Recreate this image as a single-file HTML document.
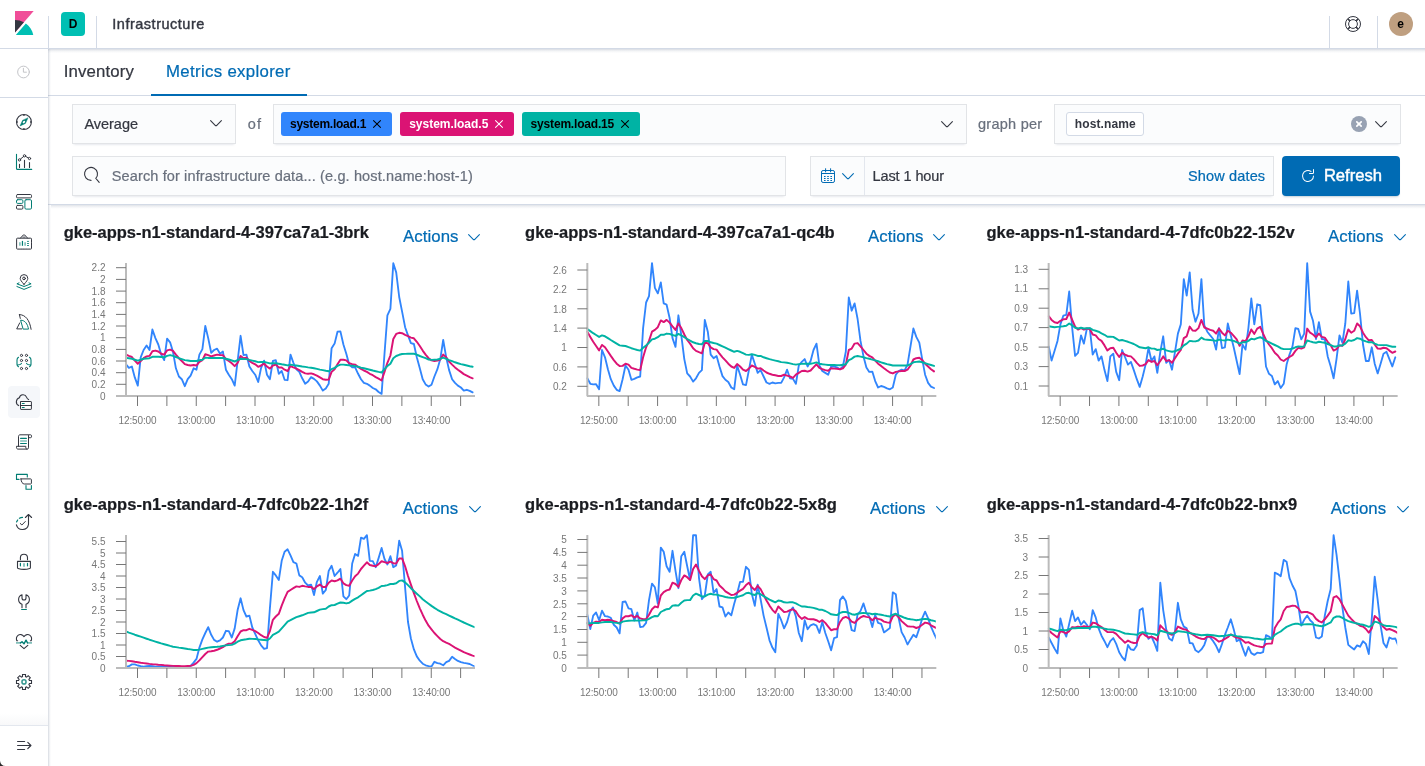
<!DOCTYPE html><html lang="en"><head><meta charset="utf-8"><title>Metrics explorer - Infrastructure - Kibana</title>
<style>
*{box-sizing:border-box;margin:0;padding:0}
html,body{width:1425px;height:766px;overflow:hidden;background:#fff}
body{font-family:"Liberation Sans",sans-serif;color:#343741;position:relative}
.t{position:absolute;white-space:nowrap;-webkit-text-stroke:.22px currentColor}
.abs{position:absolute}
#hdr{position:absolute;left:0;top:0;width:1425px;height:49px;background:#fff;border-bottom:1px solid #D3DAE6;z-index:5}
#hsh{position:absolute;left:48px;top:49px;width:1377px;height:4px;background:linear-gradient(to bottom,rgba(152,162,179,.38),rgba(152,162,179,.12) 50%,rgba(152,162,179,0));z-index:3}
#ssh{position:absolute;left:48px;top:49px;width:3px;height:717px;background:linear-gradient(to right,rgba(152,162,179,.4),rgba(152,162,179,.12) 55%,rgba(152,162,179,0));z-index:4}
.vd{position:absolute;top:16px;width:1px;height:32px;background:#D3DAE6}
#side{position:absolute;left:0;top:49px;width:48px;height:717px;background:#fff;z-index:4}
.hl{position:absolute;height:1px;background:#D3DAE6}
#tabs{position:absolute;left:48px;top:49px;width:1377px;height:47px;border-bottom:1px solid #D3DAE6;background:#fff}
#tbar{position:absolute;left:48px;top:96px;width:1377px;height:109px;background:#fff;border-bottom:1px solid #D3DAE6;}
#tsh{position:absolute;left:51px;top:205px;width:1374px;height:4px;background:linear-gradient(to bottom,rgba(152,162,179,.3),rgba(152,162,179,.1) 50%,rgba(152,162,179,0))}
.fld{position:absolute;height:40px;background:#FBFCFD;border:1px solid rgba(50,55,70,.12);box-shadow:0 1px 1px -1px rgba(152,162,179,.2),0 3px 2px -2px rgba(152,162,179,.2)}
.bdg{position:absolute;top:112px;height:24px;border-radius:3px}
svg{position:absolute;overflow:visible}
#root{position:absolute;left:0;top:0;width:1425px;height:766px;will-change:transform}
</style></head><body><div id="root">
<div id="hdr">
<svg style="left:12px;top:11px" width="24" height="24" viewBox="0 0 32 32"><polygon fill="#F04E98" points="4,0 4,28.8 28.94,0"/><path fill="#343741" d="M4 12v16.789l11.906-13.738A24.721 24.721 0 0 0 4 12z"/><path fill="#00BFB3" d="M18.479 16.664L6.268 30.754l-1.073 1.237h23.191c-1.252-6.292-4.883-11.719-9.908-15.327"/></svg>
<div class="vd" style="left:48px"></div>
<div class="abs" style="left:61px;top:12px;width:24px;height:24px;border-radius:4px;background:#00BFB3"></div>
<div class="t " style="left:68.85px;top:17.94px;font-size:12px;line-height:12px;letter-spacing:-0.237px;color:#000;font-weight:700;-webkit-text-stroke:0;">D</div>
<div class="vd" style="left:96px"></div>
<div class="t " style="left:112.29px;top:17.03px;font-size:14.5px;line-height:14.5px;letter-spacing:0.508px;color:#343741;-webkit-text-stroke:.4px #343741;">Infrastructure</div>
<div class="vd" style="left:1329px"></div>
<svg style="left:1345px;top:16px" width="16" height="16" viewBox="0 0 16 16" fill="none" stroke="#343741" stroke-width="1"><circle cx="8" cy="8" r="7.5"/><circle cx="8" cy="8" r="4.4"/><path d="M2.7 2.7l2.2 2.2M13.3 2.7l-2.2 2.2M2.7 13.3l2.2-2.2M13.3 13.3l-2.2-2.2" stroke-width="1.6"/></svg>
<div class="vd" style="left:1377px"></div>
<div class="abs" style="left:1389px;top:12px;width:24px;height:24px;border-radius:12px;background:#BF9F80"></div>
<div class="t " style="left:1397.16px;top:18.04px;font-size:12px;line-height:12px;letter-spacing:0.925px;color:#000;font-weight:700;-webkit-text-stroke:0;">e</div>
</div>
<div id="hsh"></div><div id="ssh"></div>
<div id="side">
<svg style="left:16px;top:15.400000000000006px" width="16" height="16" viewBox="0 0 16 16" fill="none" stroke="#343741" stroke-width="1" stroke-linecap="round" stroke-linejoin="round"><g stroke="#C4C5C9"><circle cx="7.5" cy="8" r="5.85"/><path d="M7.4 3.9V8.2h3.4" stroke-linecap="butt" stroke-linejoin="miter"/></g></svg>
<div class="hl" style="left:0;top:48px;width:48px"></div>
<svg style="left:16px;top:64.85px" width="16" height="16" viewBox="0 0 16 16" fill="none" stroke="#343741" stroke-width="1" stroke-linecap="round" stroke-linejoin="round"><circle cx="7.95" cy="8" r="7.45" stroke-width="1.1"/><path d="M7.95 .8v1.1M7.95 14.1v1.100M.75 8h1.100M14.050 8h1.100" stroke-width="1.300" stroke-linecap="butt"/><path d="M11.900 4.100L9.400 9.450 4.050 11.900 6.500 6.550z" fill="#017D73" stroke="#017D73" stroke-width=".5"/><ellipse cx="7.950" cy="8" rx="1.500" ry=".9" transform="rotate(-45 7.950 8)" fill="#fff" stroke="none"/></svg>
<svg style="left:16px;top:105px" width="16" height="16" viewBox="0 0 16 16" fill="none" stroke="#343741" stroke-width="1" stroke-linecap="round" stroke-linejoin="round"><path d="M.5.2V14.4a1 1 0 0 0 1 1H15.7" stroke="#017D73" stroke-width="1.100"/><path d="M3.500 10.200V13.400M8.500 6.300V13.400M13.500 8.500V13.400" stroke-width="1.100"/><path d="M4.400 5.100L7.600 2.500M9.600 2.400L12.500 4"/><circle cx="3.500" cy="5.900" r="1.150"/><circle cx="8.500" cy="1.800" r="1.150"/><circle cx="13.500" cy="4.500" r="1.150"/></svg>
<svg style="left:16px;top:145px" width="16" height="16" viewBox="0 0 16 16" fill="none" stroke="#343741" stroke-width="1" stroke-linecap="round" stroke-linejoin="round"><rect x=".5" y=".5" width="15" height="3.400" rx="1.100"/><rect x=".5" y="5.700" width="6.400" height="3.700" rx="1.100" stroke="#017D73"/><rect x=".5" y="11.400" width="6.400" height="3.700" rx="1.100"/><rect x="8.900" y="5.700" width="6.600" height="9.400" rx="1.200" stroke="#017D73"/></svg>
<svg style="left:16px;top:185px" width="16" height="16" viewBox="0 0 16 16" fill="none" stroke="#343741" stroke-width="1" stroke-linecap="round" stroke-linejoin="round"><path d="M4.300 4.200L7.300 1a1 1 0 0 1 1.400 0l3 3.200" /><path d="M6.900 3.100h2.200" stroke-width=".8"/><rect x=".6" y="4.200" width="14.900" height="10.900" rx=".8" stroke-dasharray="2.200 .55" stroke-dashoffset="1.100"/><path d="M3.900 8.300v3.500M9.100 8.300v3.500" stroke="#80BEB9" stroke-width="1.600" stroke-linecap="butt"/><path d="M6.450 6.900v4.900" stroke="#017D73" stroke-width="1.200" stroke-linecap="butt"/><path d="M11.200 7.400h1.600M11.200 9.500h1.600M11.200 11.500h1.600" stroke="#017D73" stroke-width="1" stroke-linecap="butt"/></svg>
<svg style="left:16px;top:225px" width="16" height="16" viewBox="0 0 16 16" fill="none" stroke="#343741" stroke-width="1" stroke-linecap="round" stroke-linejoin="round"><path d="M8 10.400C5.400 7.300 4.200 6 4.200 4.300A3.800 3.800 0 0 1 8 .6a3.800 3.800 0 0 1 3.800 3.700C11.800 6 10.600 7.300 8 10.400z"/><circle cx="8" cy="4.400" r="1.350"/><path d="M3 8.900L.9 9.800 8 12.500l7.100-2.700L13 8.900M.9 12.500L8 15.400l7.100-2.900" stroke="#017D73"/></svg>
<svg style="left:16px;top:265px" width="16" height="16" viewBox="0 0 16 16" fill="none" stroke="#343741" stroke-width="1" stroke-linecap="round" stroke-linejoin="round"><path d="M3.400.6C9.500.6 13.600 6 15.100 15.300M3.400.6l.9 3.800M3.700 8.900L.7 14.900h5"/><path d="M5 6.200c4 0 6.600 3.800 7.500 8.900H7.500z" stroke="#017D73"/></svg>
<svg style="left:16px;top:305px" width="16" height="16" viewBox="0 0 16 16" fill="none" stroke="#343741" stroke-width="1" stroke-linecap="round" stroke-linejoin="round"><path d="M2.500 3.300C1.300 4 1 5 1 6v4.500c0 1 .5 1.600 1.500 2.200M1.300 11c1.800 0 3.500-.4 4.200-1.500M13.500 3.300C14.700 4 15 5 15 6v4.500c0 1-.5 1.600-1.500 2.200M14.700 11c-1.800 0-3.500-.4-4.200-1.500" stroke="#017D73" stroke-width="1.100"/><circle cx="5.5" cy="1.4" r="1.100"/><circle cx="5.5" cy="6.5" r="1.100"/><circle cx="5.5" cy="14.5" r="1.100"/><circle cx="10.5" cy="1.4" r="1.100"/><circle cx="10.5" cy="6.5" r="1.100"/><circle cx="10.5" cy="14.5" r="1.100"/></svg>
<div class="abs" style="left:8px;top:337px;width:32px;height:32px;border-radius:4px;background:#F5F7FA"></div>
<svg style="left:16px;top:345px" width="16" height="16" viewBox="0 0 16 16" fill="none" stroke="#343741" stroke-width="1" stroke-linecap="round" stroke-linejoin="round"><path d="M12.6 5.6C11.4 5.100 10.900 4.100 10.500 3.100A3.700 3.700 0 0 0 3.400 3.800 4.200 4.200 0 0 0 2.700 11.600" stroke-width="1.100"/><rect x="4.500" y="7.500" width="10.900" height="7.900" rx=".5" fill="#fff"/><path d="M4.500 11.500h10.900"/><path d="M6.300 9.500h1.900M6.300 13.500h1.900" stroke="#017D73" stroke-width="1.100"/></svg>
<svg style="left:16px;top:385px" width="16" height="16" viewBox="0 0 16 16" fill="none" stroke="#343741" stroke-width="1" stroke-linecap="round" stroke-linejoin="round"><path d="M2.500 12.300V2.300c0-.8.700-1.500 1.500-1.500h10.600c.5 0 .9.400.9.900v1.100c0 .5-.4.900-.9.900h-2.100M12.500 1.500v12.300c0 .7-.5 1.300-1.200 1.300H2c-.8 0-1.500-.6-1.500-1.400v-1.400h9.300v1.500c0 .7.500 1.300 1.200 1.300"/><path d="M4.600 4.400h5.800M4.600 9.500h5.800" stroke="#017D73" stroke-width="1.100"/><path d="M4.600 7h5.800" stroke="#80BEB9" stroke-width="1.500"/></svg>
<svg style="left:16px;top:425px" width="16" height="16" viewBox="0 0 16 16" fill="none" stroke="#343741" stroke-width="1" stroke-linecap="round" stroke-linejoin="round"><path d="M3 5.400H.5V.4h10.800V3" stroke="#017D73" stroke-width="1.100"/><path d="M5 4.900h9.600c.5 0 .8.300.8.800v3.500c0 .5-.3.800-.8.800H8.500C6.500 10 5 8 5 4.900z"/><path d="M10 11.500v3.700h5.400v-3.700" stroke="#017D73" stroke-width="1.100"/></svg>
<svg style="left:16px;top:465px" width="16" height="16" viewBox="0 0 16 16" fill="none" stroke="#343741" stroke-width="1" stroke-linecap="round" stroke-linejoin="round"><path d="M12.500.9v9.400M9.400 3.500L12.500.5l3.100 3M12.500 10.300A6.200 6.200 0 0 1 .4 10.900" stroke-width="1.100"/><path d="M.6 7.900l1.100-1.900M3.400 4.300c1-.6 2-.9 3.100-.9" stroke="#017D73" stroke-width="1.200"/><path d="M4.300 9.500l1.600 1.500 3.400-3.500"/></svg>
<svg style="left:16px;top:505px" width="16" height="16" viewBox="0 0 16 16" fill="none" stroke="#343741" stroke-width="1" stroke-linecap="round" stroke-linejoin="round"><path d="M1.500 7.400h12.900v6.300c0 .4-.2.700-.6.800-3.800 1.200-7.900 1.200-11.700 0-.4-.1-.6-.4-.6-.8z" stroke-width="1.100"/><path d="M4.400 5.700V3.800a3.550 3.550 0 0 1 7.100 0v1.900" stroke-width="1.100"/><path d="M4.400 9.400v2.400M11.500 9.400v2.400" stroke="#017D73" stroke-width="1.200"/><path d="M8 9.300v3.400" stroke="#80BEB9" stroke-width="1.800" stroke-linecap="butt"/></svg>
<svg style="left:16px;top:545px" width="16" height="16" viewBox="0 0 16 16" fill="none" stroke="#343741" stroke-width="1" stroke-linecap="round" stroke-linejoin="round"><path d="M6 .7C3.700 1.500 2.600 3.500 2.600 5.500c0 2.200 1.400 4 3.400 4.800v3.400M10 13.700v-3.400c2-.8 3.400-2.600 3.400-4.800 0-2-1.100-4-3.400-4.800M6 .7V4a2 2 0 0 0 4 0V.7" stroke-width="1.100"/><path d="M5.600 15.500h4.800" stroke="#017D73" stroke-width="1.100"/></svg>
<svg style="left:16px;top:585px" width="16" height="16" viewBox="0 0 16 16" fill="none" stroke="#343741" stroke-width="1" stroke-linecap="round" stroke-linejoin="round"><path d="M1.600 6.700h-.8C.2 5 .3 2.800 2 1.400 3.800 0 6.300.3 8 2.600 9.700.3 12.200 0 14 1.400c1.700 1.400 1.800 3.600 1.200 5.300h-.8M4.200 11.400L8 14.700l3.800-3.300" stroke-width="1.100"/><path d="M0 8.900h4.500M11.500 8.900H16" stroke="#80BEB9" stroke-width="1.700" stroke-linecap="butt"/><path d="M4.500 8.900L6 7.700l2 2.100 2-3.600 1.500 2.700" stroke="#017D73" stroke-width="1.400"/></svg>
<svg style="left:16px;top:625px" width="16" height="16" viewBox="0 0 16 16" fill="none" stroke="#343741" stroke-width="1" stroke-linecap="round" stroke-linejoin="round"><path d="M6.500.500h3v2.100l1.100.5L12.200 1.700l2.100 2.100-1.400 1.600.5 1.100h2.100v3h-2.100l-.5 1.100 1.400 1.600-2.100 2.100-1.600-1.400-1.100.5v2.100h-3v-2.100l-1.100-.5-1.600 1.400-2.100-2.100 1.400-1.600-.5-1.100H.5v-3h2.100l.5-1.100-1.400-1.600 2.100-2.100 1.600 1.400 1.100-.5z" stroke-linejoin="miter" stroke-width="1.100"/><circle cx="8" cy="7.900" r="2.050" stroke="#017D73" stroke-width="1.500" opacity=".8"/></svg>
<div class="abs" style="left:0;top:664px;width:48px;height:12px;background:linear-gradient(to bottom,rgba(152,162,179,0),rgba(152,162,179,.07))"></div><div class="hl" style="left:0;top:676px;width:48px;background:#E3E7EE"></div>
<svg style="left:16px;top:689px" width="16" height="16" viewBox="0 0 16 16" fill="none" stroke="#343741" stroke-width="1" stroke-linecap="round" stroke-linejoin="round"><path d="M1.600 3.500h7M1.600 7.500h13M1.600 11.500h7M11.800 4.400l3.100 3.100-3.100 3.100" stroke-width="1.200"/></svg>
</div>
<div id="tabs"></div>
<div class="t " style="left:63.70px;top:63.68px;font-size:16.8px;line-height:16.8px;letter-spacing:0.147px;color:#343741;">Inventory</div>
<div class="t " style="left:166.03px;top:63.68px;font-size:16.8px;line-height:16.8px;letter-spacing:0.333px;color:#006BB4;">Metrics explorer</div>
<div class="abs" style="left:151px;top:94px;width:156px;height:2px;background:#006BB4"></div>
<div id="tbar"></div><div id="tsh"></div>
<div class="fld" style="left:72px;top:104px;width:164px"></div>
<div class="t " style="left:84.40px;top:116.93px;font-size:14.5px;line-height:14.5px;letter-spacing:-0.021px;color:#343741;">Average</div>
<svg style="left:210px;top:120px" width="12" height="7" viewBox="0 0 12 7" fill="none" stroke="#343741" stroke-width="1.1" stroke-linecap="round" stroke-linejoin="round"><path d="M.6.7l4.6 4.6a1.1 1.1 0 0 0 1.6 0L11.4.7"/></svg>
<div class="t " style="left:247.84px;top:116.93px;font-size:14.5px;line-height:14.5px;letter-spacing:1.037px;color:#69707D;">of</div>
<div class="fld" style="left:273px;top:104px;width:694px"></div>
<div class="bdg" style="left:281px;width:111px;background:#3185FC"></div>
<div class="t " style="left:290.02px;top:118.14px;font-size:12px;line-height:12px;letter-spacing:-0.257px;color:#000;font-weight:700;-webkit-text-stroke:0;">system.load.1</div>
<svg style="left:373.4px;top:120px" width="8" height="8" viewBox="0 0 8 8" fill="#000"><g transform="rotate(45 4 4)"><rect x="-1.400" y="3.500" width="10.800" height="1" rx=".5"/><rect x="3.500" y="-1.400" width="1" height="10.800" rx=".5"/></g></svg>
<div class="bdg" style="left:400px;width:114px;background:#DB1374"></div>
<div class="t " style="left:409.23px;top:118.14px;font-size:12px;line-height:12px;letter-spacing:-0.024px;color:#fff;font-weight:700;-webkit-text-stroke:0;">system.load.5</div>
<svg style="left:495px;top:120px" width="8" height="8" viewBox="0 0 8 8" fill="#fff"><g transform="rotate(45 4 4)"><rect x="-1.400" y="3.500" width="10.800" height="1" rx=".5"/><rect x="3.500" y="-1.400" width="1" height="10.800" rx=".5"/></g></svg>
<div class="bdg" style="left:522px;width:118px;background:#00B3A4"></div>
<div class="t " style="left:530.62px;top:118.14px;font-size:12px;line-height:12px;letter-spacing:-0.183px;color:#000;font-weight:700;-webkit-text-stroke:0;">system.load.15</div>
<svg style="left:621.2px;top:120px" width="8" height="8" viewBox="0 0 8 8" fill="#000"><g transform="rotate(45 4 4)"><rect x="-1.400" y="3.500" width="10.800" height="1" rx=".5"/><rect x="3.500" y="-1.400" width="1" height="10.800" rx=".5"/></g></svg>
<svg style="left:941px;top:121px" width="12" height="7" viewBox="0 0 12 7" fill="none" stroke="#343741" stroke-width="1.1" stroke-linecap="round" stroke-linejoin="round"><path d="M.6.7l4.6 4.6a1.1 1.1 0 0 0 1.6 0L11.4.7"/></svg>
<div class="t " style="left:978.04px;top:116.93px;font-size:14.5px;line-height:14.5px;letter-spacing:0.261px;color:#69707D;">graph per</div>
<div class="fld" style="left:1054px;top:104px;width:347px"></div>
<div class="abs" style="left:1066px;top:112px;width:78px;height:24px;border-radius:3px;background:#fff;border:1px solid #D3DAE6"></div>
<div class="t " style="left:1074.79px;top:118.14px;font-size:12px;line-height:12px;letter-spacing:0.123px;color:#343741;font-weight:700;-webkit-text-stroke:0;">host.name</div>
<svg style="left:1351px;top:116px" width="16" height="16" viewBox="0 0 16 16"><circle cx="8" cy="8" r="8" fill="#98A2B3"/><g transform="rotate(45 8 8)" fill="#fff"><rect x="4.100" y="7.150" width="7.800" height="1.700" rx=".8"/><rect x="7.150" y="4.100" width="1.700" height="7.800" rx=".8"/></g></svg>
<svg style="left:1375px;top:121px" width="12" height="7" viewBox="0 0 12 7" fill="none" stroke="#343741" stroke-width="1.1" stroke-linecap="round" stroke-linejoin="round"><path d="M.6.7l4.6 4.6a1.1 1.1 0 0 0 1.6 0L11.4.7"/></svg>
<div class="fld" style="left:72px;top:156px;width:714px"></div>
<svg style="left:83px;top:166.1px" width="17" height="18" viewBox="0 0 17 18" fill="none" stroke="#343741" stroke-width="1.1" stroke-linecap="round"><path d="M8 14.4A6.5 6.5 0 1 1 12.8 12.3L16.2 16.4"/></svg>
<div class="t " style="left:111.78px;top:169.13px;font-size:14.5px;line-height:14.5px;letter-spacing:0.130px;color:#69707D;">Search for infrastructure data... (e.g. host.name:host-1)</div>
<div class="fld" style="left:810px;top:156px;width:464px"></div>
<div class="abs" style="left:864px;top:157px;width:1px;height:38px;background:#E3E7EE"></div>
<svg style="left:821px;top:168px" width="14" height="16" viewBox="0 0 14 16" fill="none" stroke="#006BB4" stroke-width="1"><rect x=".5" y="2.5" width="13" height="12" rx="1.6"/><path d="M.5 5.5h13M4.600.7v3.200M9.600.7v3.200" stroke-linecap="round"/><path d="M3 8.500h1.600M6.200 8.500h1.600M9.400 8.500H11M3 10.500h1.600M6.200 10.500h1.600M9.400 10.500H11M3 12.500h1.600M6.200 12.500h1.600M9.400 12.500H11" stroke-width="1.100"/></svg>
<svg style="left:842px;top:173px" width="12" height="7" viewBox="0 0 12 7" fill="none" stroke="#006BB4" stroke-width="1.1" stroke-linecap="round" stroke-linejoin="round"><path d="M.6.7l4.6 4.6a1.1 1.1 0 0 0 1.6 0L11.4.7"/></svg>
<div class="t " style="left:872.41px;top:168.63px;font-size:14.5px;line-height:14.5px;letter-spacing:-0.079px;color:#343741;">Last 1 hour</div>
<div class="t " style="left:1187.97px;top:168.63px;font-size:14.5px;line-height:14.5px;letter-spacing:0.153px;color:#006BB4;">Show dates</div>
<div class="abs" style="left:1282px;top:156px;width:118px;height:40px;border-radius:4px;background:#006BB4;box-shadow:0 2px 2px -1px rgba(54,97,126,.3)"></div>
<svg style="left:1300px;top:167.6px" width="16" height="16" viewBox="0 0 16 16" fill="#fff"><path d="M11.228 2.942a.5.5 0 1 1-.538.842A5 5 0 1 0 13 8a.5.5 0 1 1 1 0 6 6 0 1 1-2.772-5.058zM14 1.500v3A1.500 1.500 0 0 1 12.500 6h-3a.5.5 0 0 1 0-1h3a.5.5 0 0 0 .5-.5v-3a.5.5 0 1 1 1 0z"/></svg>
<div class="t " style="left:1323.89px;top:167.55px;font-size:16.6px;line-height:16.6px;letter-spacing:-0.002px;color:#fff;-webkit-text-stroke:.45px #fff;">Refresh</div>
<div class="t " style="left:63.78px;top:224.03px;font-size:16.5px;line-height:16.5px;letter-spacing:-0.033px;color:#1A1C21;font-weight:700;">gke-apps-n1-standard-4-397ca7a1-3brk</div>
<div class="t " style="left:403.00px;top:228.68px;font-size:16.8px;line-height:16.8px;letter-spacing:0.073px;color:#006BB4;">Actions</div>
<svg style="left:468.4px;top:234px" width="12" height="7" viewBox="0 0 12 7" fill="none" stroke="#006BB4" stroke-width="1.1" stroke-linecap="round" stroke-linejoin="round"><path d="M.6.7l4.6 4.6a1.1 1.1 0 0 0 1.6 0L11.4.7"/></svg>
<div class="t " style="left:525.08px;top:224.03px;font-size:16.5px;line-height:16.5px;letter-spacing:-0.011px;color:#1A1C21;font-weight:700;">gke-apps-n1-standard-4-397ca7a1-qc4b</div>
<div class="t " style="left:868.00px;top:228.68px;font-size:16.8px;line-height:16.8px;letter-spacing:0.073px;color:#006BB4;">Actions</div>
<svg style="left:933.2px;top:234px" width="12" height="7" viewBox="0 0 12 7" fill="none" stroke="#006BB4" stroke-width="1.1" stroke-linecap="round" stroke-linejoin="round"><path d="M.6.7l4.6 4.6a1.1 1.1 0 0 0 1.6 0L11.4.7"/></svg>
<div class="t " style="left:986.38px;top:224.03px;font-size:16.5px;line-height:16.5px;letter-spacing:0.056px;color:#1A1C21;font-weight:700;">gke-apps-n1-standard-4-7dfc0b22-152v</div>
<div class="t " style="left:1328.00px;top:228.68px;font-size:16.8px;line-height:16.8px;letter-spacing:0.073px;color:#006BB4;">Actions</div>
<svg style="left:1394px;top:234px" width="12" height="7" viewBox="0 0 12 7" fill="none" stroke="#006BB4" stroke-width="1.1" stroke-linecap="round" stroke-linejoin="round"><path d="M.6.7l4.6 4.6a1.1 1.1 0 0 0 1.6 0L11.4.7"/></svg>
<div class="t " style="left:63.78px;top:496.03px;font-size:16.5px;line-height:16.5px;letter-spacing:0.027px;color:#1A1C21;font-weight:700;">gke-apps-n1-standard-4-7dfc0b22-1h2f</div>
<div class="t " style="left:402.70px;top:500.68px;font-size:16.8px;line-height:16.8px;letter-spacing:0.073px;color:#006BB4;">Actions</div>
<svg style="left:468.5px;top:506px" width="12" height="7" viewBox="0 0 12 7" fill="none" stroke="#006BB4" stroke-width="1.1" stroke-linecap="round" stroke-linejoin="round"><path d="M.6.7l4.6 4.6a1.1 1.1 0 0 0 1.6 0L11.4.7"/></svg>
<div class="t " style="left:525.08px;top:496.03px;font-size:16.5px;line-height:16.5px;letter-spacing:0.129px;color:#1A1C21;font-weight:700;">gke-apps-n1-standard-4-7dfc0b22-5x8g</div>
<div class="t " style="left:870.00px;top:500.68px;font-size:16.8px;line-height:16.8px;letter-spacing:0.073px;color:#006BB4;">Actions</div>
<svg style="left:935.6px;top:506px" width="12" height="7" viewBox="0 0 12 7" fill="none" stroke="#006BB4" stroke-width="1.1" stroke-linecap="round" stroke-linejoin="round"><path d="M.6.7l4.6 4.6a1.1 1.1 0 0 0 1.6 0L11.4.7"/></svg>
<div class="t " style="left:986.67px;top:496.03px;font-size:16.5px;line-height:16.5px;letter-spacing:0.072px;color:#1A1C21;font-weight:700;">gke-apps-n1-standard-4-7dfc0b22-bnx9</div>
<div class="t " style="left:1330.70px;top:500.68px;font-size:16.8px;line-height:16.8px;letter-spacing:0.073px;color:#006BB4;">Actions</div>
<svg style="left:1396.7px;top:506px" width="12" height="7" viewBox="0 0 12 7" fill="none" stroke="#006BB4" stroke-width="1.1" stroke-linecap="round" stroke-linejoin="round"><path d="M.6.7l4.6 4.6a1.1 1.1 0 0 0 1.6 0L11.4.7"/></svg>
<svg style="left:0;top:0" width="1425" height="766" viewBox="0 0 1425 766" font-family="Liberation Sans, sans-serif" font-size="10" fill="#777">
<g><clipPath id="cp0"><rect x="125.0" y="262" width="349.5" height="135"/></clipPath><g clip-path="url(#cp0)"><path d="M126.0,364.3L128.9,367.9L131.9,366.5L134.8,377.4L137.8,385.6L140.7,357.3L143.6,350.0L146.6,345.4L149.5,350.0L152.4,329.5L155.4,338.1L158.3,344.5L161.2,354.6L164.2,360.1L167.1,338.7L170.1,342.3L173.0,351.8L175.9,368.3L178.9,376.5L181.8,379.2L184.8,386.2L187.7,379.2L190.6,375.6L193.6,368.3L196.5,369.7L199.4,354.6L202.4,349.1L205.3,325.9L208.2,338.1L211.2,352.8L214.1,350.0L217.1,348.6L220.0,353.7L222.9,351.5L225.9,369.7L228.8,374.7L231.8,379.2L234.7,385.6L237.6,361.0L240.6,335.8L243.5,355.1L246.4,354.6L249.4,366.5L252.3,371.0L255.2,374.7L258.2,382.0L261.1,367.9L264.1,360.6L267.0,374.7L269.9,379.2L272.9,361.0L275.8,360.1L278.8,373.8L281.7,371.0L284.6,379.8L287.6,380.2L290.5,354.6L293.4,362.8L296.4,369.2L299.3,371.9L302.2,378.3L305.2,383.8L308.1,381.6L311.1,377.1L314.0,378.9L316.9,381.4L319.9,385.6L322.8,390.6L325.8,388.4L328.7,383.8L331.6,348.2L334.6,343.6L337.5,331.7L340.4,331.4L343.4,344.5L346.3,353.7L349.2,364.6L352.2,367.4L355.1,367.4L358.1,373.8L361.0,379.2L363.9,382.9L366.9,383.8L369.8,385.6L372.8,388.0L375.7,389.3L378.6,392.0L381.6,393.9L384.5,353.7L387.4,315.3L390.4,308.9L393.3,263.2L396.2,272.4L399.2,297.0L402.1,311.6L405.1,327.2L408.0,335.4L410.9,343.1L413.9,344.0L416.8,357.3L419.8,368.3L422.7,379.2L425.6,384.4L428.6,386.6L431.5,384.7L434.4,376.5L437.4,369.2L440.3,359.1L443.2,340.0L446.2,357.3L449.1,370.1L452.1,379.2L455.0,382.9L457.9,385.6L460.9,387.5L463.8,390.6L466.8,389.8L469.7,390.9L472.6,392.4" fill="none" stroke="#3185FC" stroke-width="1.85" stroke-linejoin="round" stroke-linecap="round"/><path d="M126.0,354.6L128.9,355.9L131.9,357.0L134.8,360.6L137.8,363.7L140.7,361.0L143.6,358.2L146.6,356.4L149.5,355.9L152.4,351.3L155.4,350.6L158.3,351.5L161.2,353.7L164.2,354.6L167.1,350.4L170.1,349.6L173.0,350.9L175.9,354.6L178.9,358.2L181.8,361.0L184.8,364.1L187.7,365.0L190.6,365.5L193.6,365.0L196.5,365.5L199.4,361.9L202.4,360.1L205.3,354.2L208.2,355.1L211.2,356.4L214.1,355.5L217.1,354.6L220.0,355.1L222.9,355.1L225.9,359.1L228.8,361.0L231.8,363.2L234.7,366.1L237.6,362.8L240.6,356.0L243.5,358.2L246.4,357.7L249.4,361.0L252.3,362.8L255.2,364.3L258.2,366.8L261.1,365.5L264.1,363.7L267.0,366.5L269.9,368.6L272.9,365.5L275.8,364.6L278.8,367.4L281.7,367.4L284.6,369.7L287.6,371.0L290.5,366.1L293.4,367.4L296.4,368.6L299.3,370.1L302.2,371.9L305.2,373.4L308.1,373.8L311.1,373.4L314.0,374.3L316.9,375.6L319.9,377.4L322.8,379.2L325.8,379.8L328.7,379.6L331.6,371.9L334.6,369.2L337.5,364.3L340.4,359.7L343.4,359.7L346.3,360.4L349.2,363.2L352.2,364.1L355.1,364.6L358.1,367.0L361.0,368.8L363.9,370.5L366.9,371.9L369.8,373.8L372.8,375.2L375.7,377.1L378.6,378.7L381.6,380.5L384.5,371.9L387.4,362.8L390.4,355.5L393.3,339.0L396.2,333.9L399.2,332.8L402.1,333.2L405.1,334.8L408.0,336.1L410.9,337.6L413.9,338.3L416.8,341.8L419.8,346.0L422.7,350.6L425.6,354.6L428.6,358.2L431.5,360.4L434.4,361.0L437.4,360.6L440.3,359.5L443.2,354.6L446.2,357.3L449.1,361.5L452.1,364.6L455.0,367.4L457.9,369.7L460.9,371.9L463.8,374.1L466.8,375.6L469.7,377.1L472.6,378.3" fill="none" stroke="#DB1374" stroke-width="1.95" stroke-linejoin="round" stroke-linecap="round"/><path d="M126.0,357.9L128.9,358.3L131.9,358.8L134.8,359.7L137.8,360.6L140.7,359.7L143.6,358.8L146.6,358.5L149.5,358.2L152.4,356.8L155.4,356.6L158.3,356.8L161.2,357.0L164.2,357.3L167.1,355.9L170.1,355.1L173.0,355.9L175.9,357.0L178.9,358.2L181.8,359.1L184.8,360.1L187.7,360.5L190.6,361.0L193.6,361.0L196.5,361.0L199.4,360.3L202.4,359.7L205.3,357.7L208.2,357.9L211.2,357.9L214.1,357.9L217.1,357.9L220.0,357.9L222.9,357.9L225.9,358.7L228.8,359.5L231.8,360.5L234.7,361.5L237.6,360.2L240.6,358.8L243.5,359.0L246.4,359.1L249.4,359.9L252.3,360.6L255.2,361.3L258.2,362.1L261.1,362.0L264.1,361.9L267.0,362.6L269.9,363.4L272.9,363.3L275.8,363.2L278.8,363.7L281.7,364.3L284.6,364.8L287.6,365.4L290.5,364.6L293.4,365.1L296.4,365.5L299.3,366.0L302.2,366.5L305.2,366.9L308.1,367.4L311.1,367.8L314.0,368.3L316.9,368.9L319.9,369.6L322.8,370.1L325.8,370.7L328.7,371.2L331.6,369.2L334.6,367.9L337.5,365.9L340.4,364.6L343.4,364.6L346.3,365.0L349.2,365.4L352.2,365.7L355.1,366.1L358.1,366.8L361.0,367.6L363.9,368.3L366.9,369.0L369.8,369.7L372.8,370.5L375.7,371.2L378.6,371.9L381.6,372.5L384.5,369.2L387.4,366.1L390.4,363.7L393.3,358.2L396.2,356.0L399.2,354.8L402.1,354.0L405.1,353.9L408.0,353.8L410.9,353.8L413.9,353.7L416.8,354.6L419.8,356.0L422.7,357.1L425.6,358.2L428.6,359.5L431.5,359.9L434.4,359.7L437.4,359.5L440.3,358.8L443.2,357.7L446.2,358.8L449.1,360.1L452.1,361.2L455.0,362.3L457.9,363.2L460.9,364.1L463.8,364.8L466.8,365.5L469.7,366.2L472.6,366.8" fill="none" stroke="#00B3A4" stroke-width="1.95" stroke-linejoin="round" stroke-linecap="round"/></g><path d="M126.0,263V396M116.0,396H475.0" stroke="#BBB" stroke-width="2" fill="none"/><text x="105.50" y="399.7" text-anchor="end">0</text><text x="105.50" y="388.0" text-anchor="end">0.2</text><text x="105.50" y="376.4" text-anchor="end">0.4</text><text x="105.50" y="364.7" text-anchor="end">0.6</text><text x="105.50" y="353.1" text-anchor="end">0.8</text><text x="105.50" y="341.4" text-anchor="end">1</text><text x="105.50" y="329.7" text-anchor="end">1.2</text><text x="105.50" y="318.1" text-anchor="end">1.4</text><text x="105.50" y="306.4" text-anchor="end">1.6</text><text x="105.50" y="294.8" text-anchor="end">1.8</text><text x="105.50" y="283.1" text-anchor="end">2</text><text x="105.50" y="271.4" text-anchor="end">2.2</text><path d="M116.0,384.3H126.0M116.0,372.7H126.0M116.0,361.0H126.0M116.0,349.4H126.0M116.0,337.7H126.0M116.0,326.0H126.0M116.0,314.4H126.0M116.0,302.7H126.0M116.0,291.1H126.0M116.0,279.4H126.0M116.0,267.7H126.0M137.50,396V406M166.88,396V406M196.25,396V406M225.62,396V406M255.00,396V406M284.38,396V406M313.75,396V406M343.12,396V406M372.50,396V406M401.88,396V406M431.25,396V406M460.62,396V406" stroke="#777" stroke-width="1" fill="none"/><text x="137.5" y="424.4" text-anchor="middle" letter-spacing="-0.14">12:50:00</text><text x="196.2" y="424.4" text-anchor="middle" letter-spacing="-0.14">13:00:00</text><text x="255.0" y="424.4" text-anchor="middle" letter-spacing="-0.14">13:10:00</text><text x="313.8" y="424.4" text-anchor="middle" letter-spacing="-0.14">13:20:00</text><text x="372.5" y="424.4" text-anchor="middle" letter-spacing="-0.14">13:30:00</text><text x="431.2" y="424.4" text-anchor="middle" letter-spacing="-0.14">13:40:00</text></g>
<g><clipPath id="cp1"><rect x="586.33" y="262" width="349.5" height="135"/></clipPath><g clip-path="url(#cp1)"><path d="M587.3,378.3L590.3,383.8L593.2,384.4L596.1,384.2L599.1,389.3L602.0,350.0L605.0,357.3L607.9,369.2L610.8,379.2L613.8,385.6L616.7,389.8L619.6,391.1L622.6,379.2L625.5,365.5L628.5,369.7L631.4,379.8L634.3,378.9L637.3,377.4L640.2,376.5L643.1,328.1L646.1,302.5L649.0,296.1L652.0,263.2L654.9,287.9L657.8,293.4L660.8,282.4L663.7,303.4L666.6,304.7L669.6,318.0L672.5,338.1L675.5,346.9L678.4,315.3L681.3,335.4L684.3,359.1L687.2,373.4L690.1,376.5L693.1,381.6L696.0,378.3L699.0,372.9L701.9,370.1L704.8,319.9L707.8,331.7L710.7,354.6L713.6,358.2L716.6,356.0L719.5,366.5L722.5,376.1L725.4,379.8L728.3,382.0L731.3,387.5L734.2,389.3L737.1,365.5L740.1,374.7L743.0,384.4L746.0,385.1L748.9,370.1L751.8,354.6L754.8,363.7L757.7,372.9L760.6,370.1L763.6,376.5L766.5,382.5L769.5,383.8L772.4,382.5L775.3,383.3L778.3,382.9L781.2,382.9L784.1,377.4L787.1,369.7L790.0,378.3L793.0,378.9L795.9,383.8L798.8,365.5L801.8,361.9L804.7,359.1L807.6,366.5L810.6,361.0L813.5,350.0L816.5,343.6L819.4,365.5L822.3,371.0L825.3,372.9L828.2,374.7L831.1,366.5L834.1,366.5L837.0,367.4L840.0,369.2L842.9,366.5L845.8,351.8L848.8,297.4L851.7,310.7L854.6,303.4L857.6,319.0L860.5,340.9L863.5,356.4L866.4,367.4L869.3,371.9L872.3,371.6L875.2,381.1L878.1,387.5L881.1,386.0L884.0,386.9L887.0,388.4L889.9,389.3L892.8,387.5L895.8,374.7L898.7,371.0L901.6,369.7L904.6,370.5L907.5,364.6L910.5,346.4L913.4,328.5L916.3,336.9L919.3,342.7L922.2,359.1L925.1,374.7L928.1,382.9L931.0,386.6L934.0,388.0" fill="none" stroke="#3185FC" stroke-width="1.85" stroke-linejoin="round" stroke-linecap="round"/><path d="M587.3,331.7L590.3,336.9L593.2,341.8L596.1,346.0L599.1,350.4L602.0,344.9L605.0,347.3L607.9,351.5L610.8,355.9L613.8,360.1L616.7,363.7L619.6,366.1L622.6,365.9L625.5,363.7L628.5,364.6L631.4,367.9L634.3,368.8L637.3,369.6L640.2,370.1L643.1,357.3L646.1,347.3L649.0,340.9L652.0,331.7L654.9,329.9L657.8,327.2L660.8,320.4L663.7,322.1L666.6,319.9L669.6,322.6L672.5,326.3L675.5,329.9L678.4,323.5L681.3,328.1L684.3,334.5L687.2,340.0L690.1,343.6L693.1,348.2L696.0,350.9L699.0,352.2L701.9,353.3L704.8,342.7L707.8,343.1L710.7,347.3L713.6,349.1L716.6,349.6L719.5,353.7L722.5,357.3L725.4,360.4L728.3,363.7L731.3,366.5L734.2,367.9L737.1,364.1L740.1,366.5L743.0,369.7L746.0,371.0L748.9,368.6L751.8,365.5L754.8,366.8L757.7,368.6L760.6,368.3L763.6,370.5L766.5,372.5L769.5,373.8L772.4,374.7L775.3,375.2L778.3,376.0L781.2,376.0L784.1,374.7L787.1,375.6L790.0,376.5L793.0,377.8L795.9,374.7L798.8,372.9L801.8,371.0L804.7,370.7L807.6,371.6L810.6,370.5L813.5,367.4L816.5,364.3L819.4,367.9L822.3,369.2L825.3,370.1L828.2,370.7L831.1,368.3L834.1,368.6L837.0,368.8L840.0,369.2L842.9,368.3L845.8,364.6L848.8,350.0L851.7,348.6L854.6,343.6L857.6,343.1L860.5,346.4L863.5,350.0L866.4,353.7L869.3,355.9L872.3,357.3L875.2,360.6L878.1,363.7L881.1,365.9L884.0,368.3L887.0,370.5L889.9,372.5L892.8,373.4L895.8,371.9L898.7,371.4L901.6,371.0L904.6,371.0L907.5,369.7L910.5,365.5L913.4,359.5L916.3,358.2L919.3,357.7L922.2,360.1L925.1,363.7L928.1,366.5L931.0,369.2L934.0,371.4" fill="none" stroke="#DB1374" stroke-width="1.95" stroke-linejoin="round" stroke-linecap="round"/><path d="M587.3,329.0L590.3,331.1L593.2,333.2L596.1,335.0L599.1,336.9L602.0,335.4L605.0,336.3L607.9,338.1L610.8,340.0L613.8,341.8L616.7,343.6L619.6,345.4L622.6,345.7L625.5,346.0L628.5,347.1L631.4,348.2L634.3,349.1L637.3,350.0L640.2,350.6L643.1,347.8L646.1,345.4L649.0,342.7L652.0,339.4L654.9,338.7L657.8,337.2L660.8,334.8L663.7,334.8L666.6,333.6L669.6,333.9L672.5,335.0L675.5,335.9L678.4,333.9L681.3,335.4L684.3,337.2L687.2,339.0L690.1,340.7L693.1,342.3L696.0,343.2L699.0,344.0L701.9,344.2L704.8,340.9L707.8,340.9L710.7,342.3L713.6,343.0L716.6,343.6L719.5,345.0L722.5,346.4L725.4,347.7L728.3,349.1L731.3,350.5L734.2,351.8L737.1,350.9L740.1,351.8L743.0,353.2L746.0,354.6L748.9,354.9L751.8,354.2L754.8,354.9L757.7,355.9L760.6,355.9L763.6,357.3L766.5,358.2L769.5,359.1L772.4,359.9L775.3,360.6L778.3,361.3L781.2,362.1L784.1,362.4L787.1,362.8L790.0,363.4L793.0,364.1L795.9,364.6L798.8,364.1L801.8,363.9L804.7,363.7L807.6,363.7L810.6,363.7L813.5,363.1L816.5,362.4L819.4,363.7L822.3,364.3L825.3,364.6L828.2,365.0L831.1,365.0L834.1,365.0L837.0,365.1L840.0,365.2L842.9,364.7L845.8,364.3L848.8,360.1L851.7,358.8L854.6,356.6L857.6,356.0L860.5,356.6L863.5,357.3L866.4,358.1L869.3,358.8L872.3,359.6L875.2,360.4L878.1,361.3L881.1,362.3L884.0,363.2L887.0,364.1L889.9,364.8L892.8,365.5L895.8,365.5L898.7,365.4L901.6,365.5L904.6,365.5L907.5,365.5L910.5,364.1L913.4,362.3L916.3,361.9L919.3,361.5L922.2,362.3L925.1,363.2L928.1,364.1L931.0,365.0L934.0,365.9" fill="none" stroke="#00B3A4" stroke-width="1.95" stroke-linejoin="round" stroke-linecap="round"/></g><path d="M587.33,263V396M586.83,396H936.33" stroke="#BBB" stroke-width="2" fill="none"/><text x="566.83" y="390.0" text-anchor="end">0.2</text><text x="566.83" y="370.6" text-anchor="end">0.6</text><text x="566.83" y="351.2" text-anchor="end">1</text><text x="566.83" y="331.8" text-anchor="end">1.4</text><text x="566.83" y="312.5" text-anchor="end">1.8</text><text x="566.83" y="293.1" text-anchor="end">2.2</text><text x="566.83" y="273.7" text-anchor="end">2.6</text><path d="M577.33,386.3H587.33M577.33,366.9H587.33M577.33,347.5H587.33M577.33,328.1H587.33M577.33,308.8H587.33M577.33,289.4H587.33M577.33,270.0H587.33M598.83,396V406M628.21,396V406M657.58,396V406M686.96,396V406M716.33,396V406M745.71,396V406M775.08,396V406M804.46,396V406M833.83,396V406M863.21,396V406M892.58,396V406M921.96,396V406" stroke="#777" stroke-width="1" fill="none"/><text x="598.8" y="424.4" text-anchor="middle" letter-spacing="-0.14">12:50:00</text><text x="657.6" y="424.4" text-anchor="middle" letter-spacing="-0.14">13:00:00</text><text x="716.3" y="424.4" text-anchor="middle" letter-spacing="-0.14">13:10:00</text><text x="775.1" y="424.4" text-anchor="middle" letter-spacing="-0.14">13:20:00</text><text x="833.8" y="424.4" text-anchor="middle" letter-spacing="-0.14">13:30:00</text><text x="892.6" y="424.4" text-anchor="middle" letter-spacing="-0.14">13:40:00</text></g>
<g><clipPath id="cp2"><rect x="1047.66" y="262" width="349.5" height="135"/></clipPath><g clip-path="url(#cp2)"><path d="M1048.7,346.4L1051.6,360.6L1054.5,350.9L1057.5,340.9L1060.4,324.4L1063.3,315.7L1066.3,314.9L1069.2,291.5L1072.2,328.1L1075.1,355.9L1078.0,352.8L1081.0,335.4L1083.9,343.6L1086.8,329.0L1089.8,328.5L1092.7,354.6L1095.7,349.1L1098.6,360.6L1101.5,356.4L1104.5,370.1L1107.4,381.1L1110.3,356.4L1113.3,353.7L1116.2,371.9L1119.2,380.2L1122.1,350.0L1125.0,357.0L1128.0,364.6L1130.9,361.9L1133.8,370.1L1136.8,379.2L1139.7,386.9L1142.7,376.5L1145.6,364.6L1148.5,347.8L1151.5,361.0L1154.4,356.4L1157.3,372.9L1160.3,351.8L1163.2,336.3L1166.2,362.8L1169.1,360.1L1172.0,369.7L1175.0,351.8L1177.9,333.6L1180.8,324.4L1183.8,279.1L1186.7,295.6L1189.7,272.4L1192.6,309.8L1195.5,321.7L1198.5,313.5L1201.4,279.1L1204.3,325.3L1207.3,331.7L1210.2,335.4L1213.2,339.0L1216.1,349.6L1219.0,328.1L1222.0,348.2L1224.9,347.3L1227.8,323.5L1230.8,335.4L1233.7,347.3L1236.7,361.0L1239.6,374.1L1242.5,344.5L1245.5,349.6L1248.4,328.1L1251.3,298.5L1254.3,324.4L1257.2,304.3L1260.2,305.2L1263.1,335.4L1266.0,366.5L1269.0,373.8L1271.9,376.0L1274.8,384.4L1277.8,381.1L1280.7,388.0L1283.7,383.8L1286.6,364.6L1289.5,354.6L1292.5,346.4L1295.4,328.1L1298.3,329.0L1301.3,339.4L1304.2,333.6L1307.2,263.2L1310.1,311.6L1313.0,320.8L1316.0,339.0L1318.9,322.2L1321.8,339.0L1324.8,339.4L1327.7,356.4L1330.7,366.5L1333.6,378.3L1336.5,359.1L1339.5,335.4L1342.4,342.7L1345.3,323.5L1348.3,281.5L1351.2,313.5L1354.2,313.1L1357.1,290.6L1360.0,313.5L1363.0,344.5L1365.9,361.0L1368.8,361.0L1371.8,347.3L1374.7,363.7L1377.7,373.4L1380.6,363.7L1383.5,353.7L1386.5,351.8L1389.4,359.1L1392.3,366.5L1395.3,357.3" fill="none" stroke="#3185FC" stroke-width="1.85" stroke-linejoin="round" stroke-linecap="round"/><path d="M1048.7,316.2L1051.6,319.9L1054.5,322.2L1057.5,323.0L1060.4,320.8L1063.3,319.3L1066.3,319.0L1069.2,312.6L1072.2,319.9L1075.1,326.6L1078.0,329.5L1081.0,328.1L1083.9,329.5L1086.8,328.5L1089.8,329.0L1092.7,334.5L1095.7,335.4L1098.6,339.0L1101.5,340.9L1104.5,345.4L1107.4,350.4L1110.3,348.2L1113.3,347.8L1116.2,352.8L1119.2,357.0L1122.1,352.8L1125.0,354.6L1128.0,356.0L1130.9,356.4L1133.8,359.1L1136.8,362.8L1139.7,365.9L1142.7,365.5L1145.6,364.1L1148.5,360.1L1151.5,361.9L1154.4,361.0L1157.3,365.2L1160.3,361.0L1163.2,356.4L1166.2,361.0L1169.1,360.1L1172.0,362.8L1175.0,358.2L1177.9,353.7L1180.8,350.0L1183.8,338.1L1186.7,336.3L1189.7,326.6L1192.6,330.5L1195.5,330.8L1198.5,328.1L1201.4,319.9L1204.3,327.5L1207.3,328.6L1210.2,329.9L1213.2,330.8L1216.1,333.6L1219.0,328.6L1222.0,332.7L1224.9,335.4L1227.8,330.8L1230.8,332.7L1233.7,335.9L1236.7,339.4L1239.6,345.8L1242.5,340.5L1245.5,341.2L1248.4,336.3L1251.3,329.5L1254.3,333.9L1257.2,328.6L1260.2,326.8L1263.1,333.6L1266.0,340.0L1269.0,344.5L1271.9,348.2L1274.8,352.8L1277.8,355.5L1280.7,359.5L1283.7,361.0L1286.6,358.8L1289.5,357.0L1292.5,355.1L1295.4,350.9L1298.3,347.8L1301.3,348.6L1304.2,347.3L1307.2,328.6L1310.1,332.7L1313.0,334.5L1316.0,337.2L1318.9,333.6L1321.8,336.9L1324.8,337.6L1327.7,341.8L1330.7,345.4L1333.6,350.6L1336.5,349.1L1339.5,345.4L1342.4,345.8L1345.3,339.0L1348.3,329.5L1351.2,332.7L1354.2,330.8L1357.1,323.5L1360.0,326.3L1363.0,332.7L1365.9,337.2L1368.8,340.3L1371.8,340.0L1374.7,344.5L1377.7,348.6L1380.6,348.7L1383.5,347.8L1386.5,348.2L1389.4,350.6L1392.3,352.8L1395.3,351.5" fill="none" stroke="#DB1374" stroke-width="1.95" stroke-linejoin="round" stroke-linecap="round"/><path d="M1048.7,326.3L1051.6,326.7L1054.5,327.2L1057.5,326.9L1060.4,326.6L1063.3,326.2L1066.3,325.7L1069.2,323.5L1072.2,325.3L1075.1,327.7L1078.0,328.5L1081.0,327.7L1083.9,328.5L1086.8,328.3L1089.8,328.1L1092.7,329.9L1095.7,330.8L1098.6,331.7L1101.5,333.3L1104.5,334.8L1107.4,336.7L1110.3,336.8L1113.3,336.9L1116.2,338.7L1119.2,340.5L1122.1,340.0L1125.0,340.9L1128.0,341.8L1130.9,342.9L1133.8,344.0L1136.8,345.6L1139.7,347.3L1142.7,347.7L1145.6,348.2L1148.5,347.3L1151.5,348.6L1154.4,348.6L1157.3,350.0L1160.3,349.5L1163.2,348.7L1166.2,350.4L1169.1,351.1L1172.0,351.8L1175.0,351.3L1177.9,350.0L1180.8,348.7L1183.8,345.4L1186.7,343.6L1189.7,340.9L1192.6,341.2L1195.5,341.4L1198.5,340.5L1201.4,337.6L1204.3,339.4L1207.3,339.7L1210.2,340.0L1213.2,340.4L1216.1,340.9L1219.0,339.6L1222.0,340.1L1224.9,340.5L1227.8,339.6L1230.8,340.2L1233.7,340.9L1236.7,342.2L1239.6,343.6L1242.5,342.3L1245.5,342.2L1248.4,340.9L1251.3,338.7L1254.3,339.4L1257.2,338.1L1260.2,337.2L1263.1,338.7L1266.0,340.9L1269.0,342.2L1271.9,343.6L1274.8,345.0L1277.8,346.4L1280.7,348.2L1283.7,349.1L1286.6,349.1L1289.5,349.1L1292.5,348.6L1295.4,347.3L1298.3,346.4L1301.3,346.7L1304.2,346.4L1307.2,340.5L1310.1,341.4L1313.0,342.2L1316.0,342.7L1318.9,341.8L1321.8,342.3L1324.8,342.7L1327.7,344.0L1330.7,345.1L1333.6,346.4L1336.5,346.4L1339.5,345.4L1342.4,345.4L1345.3,343.6L1348.3,340.3L1351.2,340.9L1354.2,340.0L1357.1,338.1L1360.0,338.7L1363.0,340.3L1365.9,341.4L1368.8,342.2L1371.8,342.2L1374.7,343.6L1377.7,344.9L1380.6,345.1L1383.5,345.1L1386.5,345.1L1389.4,346.0L1392.3,346.7L1395.3,346.7" fill="none" stroke="#00B3A4" stroke-width="1.95" stroke-linejoin="round" stroke-linecap="round"/></g><path d="M1048.66,263V396M1048.16,396H1397.66" stroke="#BBB" stroke-width="2" fill="none"/><text x="1028.16" y="389.7" text-anchor="end">0.1</text><text x="1028.16" y="370.2" text-anchor="end">0.3</text><text x="1028.16" y="350.8" text-anchor="end">0.5</text><text x="1028.16" y="331.3" text-anchor="end">0.7</text><text x="1028.16" y="311.9" text-anchor="end">0.9</text><text x="1028.16" y="292.4" text-anchor="end">1.1</text><text x="1028.16" y="273.0" text-anchor="end">1.3</text><path d="M1038.66,386.0H1048.66M1038.66,366.6H1048.66M1038.66,347.1H1048.66M1038.66,327.6H1048.66M1038.66,308.2H1048.66M1038.66,288.8H1048.66M1038.66,269.3H1048.66M1060.16,396V406M1089.54,396V406M1118.91,396V406M1148.29,396V406M1177.66,396V406M1207.04,396V406M1236.41,396V406M1265.79,396V406M1295.16,396V406M1324.54,396V406M1353.91,396V406M1383.29,396V406" stroke="#777" stroke-width="1" fill="none"/><text x="1060.2" y="424.4" text-anchor="middle" letter-spacing="-0.14">12:50:00</text><text x="1118.9" y="424.4" text-anchor="middle" letter-spacing="-0.14">13:00:00</text><text x="1177.7" y="424.4" text-anchor="middle" letter-spacing="-0.14">13:10:00</text><text x="1236.4" y="424.4" text-anchor="middle" letter-spacing="-0.14">13:20:00</text><text x="1295.2" y="424.4" text-anchor="middle" letter-spacing="-0.14">13:30:00</text><text x="1353.9" y="424.4" text-anchor="middle" letter-spacing="-0.14">13:40:00</text></g>
<g><clipPath id="cp3"><rect x="125.0" y="534" width="349.5" height="135"/></clipPath><g clip-path="url(#cp3)"><path d="M126.0,666.8L128.9,666.2L131.9,664.4L134.8,664.4L137.8,665.5L140.7,666.2L143.6,666.6L146.6,666.2L149.5,665.9L152.4,666.2L155.4,666.6L158.3,666.6L161.2,666.2L164.2,666.2L167.1,666.6L170.1,666.8L173.0,666.8L175.9,666.8L178.9,666.8L181.8,666.8L184.8,666.8L187.7,666.6L190.6,665.9L193.6,662.6L196.5,658.9L199.4,647.6L202.4,639.4L205.3,633.0L208.2,627.1L211.2,634.8L214.1,639.9L217.1,641.7L220.0,640.3L222.9,637.5L225.9,630.8L228.8,631.1L231.8,637.5L234.7,628.4L237.6,610.1L240.6,598.3L243.5,610.1L246.4,616.5L249.4,615.6L252.3,627.5L255.2,633.9L258.2,640.3L261.1,645.4L264.1,648.9L267.0,648.1L269.9,608.3L272.9,571.8L275.8,575.4L278.8,580.0L281.7,560.8L284.6,551.7L287.6,549.3L290.5,555.3L293.4,562.1L296.4,563.5L299.3,575.4L302.2,577.2L305.2,582.7L308.1,585.5L311.1,584.6L314.0,595.0L316.9,581.8L319.9,576.0L322.8,593.7L325.8,590.0L328.7,570.9L331.6,565.7L334.6,576.0L337.5,572.7L340.4,569.0L343.4,596.4L346.3,599.2L349.2,595.5L352.2,563.5L355.1,554.0L358.1,555.9L361.0,537.6L363.9,538.9L366.9,535.2L369.8,560.8L372.8,561.2L375.7,567.2L378.6,558.1L381.6,548.0L384.5,559.0L387.4,564.5L390.4,556.2L393.3,567.2L396.2,565.4L399.2,540.7L402.1,550.8L405.1,587.3L408.0,622.0L410.9,638.5L413.9,649.4L416.8,656.4L419.8,660.7L422.7,663.7L425.6,665.3L428.6,666.2L431.5,666.4L434.4,661.8L437.4,663.1L440.3,663.7L443.2,665.3L446.2,662.2L449.1,660.9L452.1,656.7L455.0,658.9L457.9,660.9L460.9,662.2L463.8,662.9L466.8,663.3L469.7,664.0L472.6,665.5L475.6,666.6" fill="none" stroke="#3185FC" stroke-width="1.85" stroke-linejoin="round" stroke-linecap="round"/><path d="M126.0,660.7L128.9,660.9L131.9,661.3L134.8,661.8L137.8,662.2L140.7,662.8L143.6,663.1L146.6,663.5L149.5,663.9L152.4,664.2L155.4,664.4L158.3,664.8L161.2,664.9L164.2,665.3L167.1,665.5L170.1,665.7L173.0,665.9L175.9,666.0L178.9,666.0L181.8,666.2L184.8,666.2L187.7,666.0L190.6,665.9L193.6,664.9L196.5,663.1L199.4,660.4L202.4,657.1L205.3,654.0L208.2,651.6L211.2,651.2L214.1,650.7L217.1,649.8L220.0,648.5L222.9,647.2L225.9,644.9L228.8,643.6L231.8,643.6L234.7,641.2L237.6,636.3L240.6,631.5L243.5,630.2L246.4,630.2L249.4,628.8L252.3,629.9L255.2,631.1L258.2,633.0L261.1,635.2L264.1,637.0L267.0,637.9L269.9,631.1L272.9,619.8L275.8,616.5L278.8,613.8L281.7,605.6L284.6,598.3L287.6,591.9L290.5,590.0L293.4,588.2L296.4,586.4L299.3,586.9L302.2,585.8L305.2,586.4L308.1,586.9L311.1,586.9L314.0,589.1L316.9,586.4L319.9,584.6L322.8,586.9L325.8,586.9L328.7,582.7L331.6,580.5L334.6,581.3L337.5,580.4L340.4,578.7L343.4,583.3L346.3,585.1L349.2,585.8L352.2,580.5L355.1,576.3L358.1,573.6L361.0,569.0L363.9,565.7L366.9,562.3L369.8,565.0L372.8,565.7L375.7,566.3L378.6,564.1L381.6,561.2L384.5,562.1L387.4,563.0L390.4,561.7L393.3,563.2L396.2,563.5L399.2,558.4L402.1,558.4L405.1,566.3L408.0,576.0L410.9,584.6L413.9,593.1L416.8,601.0L419.8,608.3L422.7,614.7L425.6,620.6L428.6,625.7L431.5,629.3L434.4,633.0L437.4,636.1L440.3,639.0L443.2,641.2L446.2,642.7L449.1,643.9L452.1,645.8L455.0,647.6L457.9,649.1L460.9,650.7L463.8,652.2L466.8,653.4L469.7,654.5L472.6,655.6L475.6,656.5" fill="none" stroke="#DB1374" stroke-width="1.95" stroke-linejoin="round" stroke-linecap="round"/><path d="M126.0,631.5L128.9,632.6L131.9,633.6L134.8,634.7L137.8,635.7L140.7,636.7L143.6,637.7L146.6,638.7L149.5,639.7L152.4,640.6L155.4,641.6L158.3,642.5L161.2,643.4L164.2,644.2L167.1,645.0L170.1,645.9L173.0,646.7L175.9,647.1L178.9,647.6L181.8,648.0L184.8,648.5L187.7,649.0L190.6,649.4L193.6,650.0L196.5,650.0L199.4,649.6L202.4,648.9L205.3,648.2L208.2,647.6L211.2,647.3L214.1,647.0L217.1,646.8L220.0,646.5L222.9,645.9L225.9,645.4L228.8,645.1L231.8,644.9L234.7,643.6L237.6,641.7L240.6,640.3L243.5,639.7L246.4,639.3L249.4,638.8L252.3,638.9L255.2,639.0L258.2,639.4L261.1,639.7L264.1,640.0L267.0,640.3L269.9,638.5L272.9,634.8L275.8,633.3L278.8,631.7L281.7,628.4L284.6,625.1L287.6,621.6L290.5,620.2L293.4,618.6L296.4,617.1L299.3,616.2L302.2,615.3L305.2,614.1L308.1,612.9L311.1,612.5L314.0,612.3L316.9,611.0L319.9,609.6L322.8,609.1L325.8,608.7L328.7,606.5L331.6,605.2L334.6,605.0L337.5,603.7L340.4,602.5L343.4,602.8L346.3,603.4L349.2,602.8L352.2,600.6L355.1,598.8L358.1,597.3L361.0,595.2L363.9,593.1L366.9,591.0L369.8,590.6L372.8,590.0L375.7,589.1L378.6,587.8L381.6,586.0L384.5,585.8L387.4,585.1L390.4,584.0L393.3,584.0L396.2,583.3L399.2,580.9L402.1,580.4L405.1,582.4L408.0,585.1L410.9,588.2L413.9,591.0L416.8,593.7L419.8,596.4L422.7,599.2L425.6,601.5L428.6,603.7L431.5,605.9L434.4,607.9L437.4,609.8L440.3,611.3L443.2,612.9L446.2,614.2L449.1,615.6L452.1,617.0L455.0,618.4L457.9,619.7L460.9,621.1L463.8,622.5L466.8,623.8L469.7,625.1L472.6,626.4L475.6,627.5" fill="none" stroke="#00B3A4" stroke-width="1.95" stroke-linejoin="round" stroke-linecap="round"/></g><path d="M126.0,535V668M116.0,668H475.0" stroke="#BBB" stroke-width="2" fill="none"/><text x="105.50" y="671.7" text-anchor="end">0</text><text x="105.50" y="660.2" text-anchor="end">0.5</text><text x="105.50" y="648.7" text-anchor="end">1</text><text x="105.50" y="637.2" text-anchor="end">1.5</text><text x="105.50" y="625.7" text-anchor="end">2</text><text x="105.50" y="614.2" text-anchor="end">2.5</text><text x="105.50" y="602.7" text-anchor="end">3</text><text x="105.50" y="591.2" text-anchor="end">3.5</text><text x="105.50" y="579.7" text-anchor="end">4</text><text x="105.50" y="568.2" text-anchor="end">4.5</text><text x="105.50" y="556.7" text-anchor="end">5</text><text x="105.50" y="545.2" text-anchor="end">5.5</text><path d="M116.0,656.5H126.0M116.0,645.0H126.0M116.0,633.5H126.0M116.0,622.0H126.0M116.0,610.5H126.0M116.0,599.0H126.0M116.0,587.5H126.0M116.0,576.0H126.0M116.0,564.5H126.0M116.0,553.0H126.0M116.0,541.5H126.0M137.50,668V678M166.88,668V678M196.25,668V678M225.62,668V678M255.00,668V678M284.38,668V678M313.75,668V678M343.12,668V678M372.50,668V678M401.88,668V678M431.25,668V678M460.62,668V678" stroke="#777" stroke-width="1" fill="none"/><text x="137.5" y="696.4" text-anchor="middle" letter-spacing="-0.14">12:50:00</text><text x="196.2" y="696.4" text-anchor="middle" letter-spacing="-0.14">13:00:00</text><text x="255.0" y="696.4" text-anchor="middle" letter-spacing="-0.14">13:10:00</text><text x="313.8" y="696.4" text-anchor="middle" letter-spacing="-0.14">13:20:00</text><text x="372.5" y="696.4" text-anchor="middle" letter-spacing="-0.14">13:30:00</text><text x="431.2" y="696.4" text-anchor="middle" letter-spacing="-0.14">13:40:00</text></g>
<g><clipPath id="cp4"><rect x="586.33" y="534" width="349.5" height="135"/></clipPath><g clip-path="url(#cp4)"><path d="M587.3,614.7L590.3,629.0L593.2,615.6L596.1,612.5L599.1,620.2L602.0,610.7L605.0,616.2L607.9,616.5L610.8,617.8L613.8,624.8L616.7,627.5L619.6,633.3L622.6,601.9L625.5,601.5L628.5,608.3L631.4,609.2L634.3,620.6L637.3,612.5L640.2,627.1L643.1,626.6L646.1,622.9L649.0,600.1L652.0,583.6L654.9,587.3L657.8,603.7L660.8,547.6L663.7,551.7L666.6,566.3L669.6,571.8L672.5,550.8L675.5,570.9L678.4,588.2L681.3,556.2L684.3,551.7L687.2,566.3L690.1,580.0L693.1,535.2L696.0,535.2L699.0,578.2L701.9,599.2L704.8,595.5L707.8,574.5L710.7,571.8L713.6,592.8L716.6,589.1L719.5,606.5L722.5,607.4L725.4,616.5L728.3,612.5L731.3,615.3L734.2,603.7L737.1,593.7L740.1,581.8L743.0,581.8L746.0,566.8L748.9,569.9L751.8,593.7L754.8,605.9L757.7,584.6L760.6,599.2L763.6,615.6L766.5,627.5L769.5,640.3L772.4,647.6L775.3,652.2L778.3,613.8L781.2,620.2L784.1,628.4L787.1,622.0L790.0,611.4L793.0,607.4L795.9,616.5L798.8,633.0L801.8,641.2L804.7,620.2L807.6,629.3L810.6,625.3L813.5,624.2L816.5,625.7L819.4,633.0L822.3,622.0L825.3,633.0L828.2,641.2L831.1,650.3L834.1,638.1L837.0,637.2L840.0,600.1L842.9,596.4L845.8,601.0L848.8,616.5L851.7,630.2L854.6,631.1L857.6,614.3L860.5,611.0L863.5,603.4L866.4,612.9L869.3,616.5L872.3,627.1L875.2,614.7L878.1,622.9L881.1,623.8L884.0,632.4L887.0,630.2L889.9,628.0L892.8,592.4L895.8,594.2L898.7,618.4L901.6,632.1L904.6,637.5L907.5,644.5L910.5,639.4L913.4,634.8L916.3,637.2L919.3,628.4L922.2,618.4L925.1,611.6L928.1,618.4L931.0,626.6L934.0,633.5L936.9,639.4" fill="none" stroke="#3185FC" stroke-width="1.85" stroke-linejoin="round" stroke-linecap="round"/><path d="M587.3,622.9L590.3,625.7L593.2,622.9L596.1,621.6L599.1,622.0L602.0,619.8L605.0,620.2L607.9,619.8L610.8,620.2L613.8,621.1L616.7,622.0L619.6,623.5L622.6,618.4L625.5,616.2L628.5,616.2L631.4,615.3L634.3,617.4L637.3,616.0L640.2,618.4L643.1,619.3L646.1,619.3L649.0,614.7L652.0,609.2L654.9,606.5L657.8,607.4L660.8,595.5L663.7,592.2L666.6,590.4L669.6,589.5L672.5,582.7L675.5,584.0L678.4,586.9L681.3,580.0L684.3,575.4L687.2,577.2L690.1,580.0L693.1,569.0L696.0,564.5L699.0,570.9L701.9,576.3L704.8,579.1L707.8,575.4L710.7,574.5L713.6,579.1L716.6,580.5L719.5,585.5L722.5,588.2L725.4,591.3L728.3,593.1L731.3,595.0L734.2,594.6L737.1,592.8L740.1,590.6L743.0,588.8L746.0,585.1L748.9,582.7L751.8,587.3L754.8,590.0L757.7,585.8L760.6,589.1L763.6,595.0L766.5,600.5L769.5,605.6L772.4,609.8L775.3,612.9L778.3,606.5L781.2,609.2L784.1,612.0L787.1,611.6L790.0,610.1L793.0,609.2L795.9,611.4L798.8,616.0L801.8,618.9L804.7,617.1L807.6,618.9L810.6,619.3L813.5,619.3L816.5,620.2L819.4,622.0L822.3,620.2L825.3,622.9L828.2,626.6L831.1,630.2L834.1,629.3L837.0,629.3L840.0,622.0L842.9,618.0L845.8,616.9L848.8,618.4L851.7,621.6L854.6,622.9L857.6,619.8L860.5,617.4L863.5,616.0L866.4,616.9L869.3,617.4L872.3,620.2L875.2,617.8L878.1,618.9L881.1,619.6L884.0,621.6L887.0,622.4L889.9,622.9L892.8,616.5L895.8,614.3L898.7,617.4L901.6,621.1L904.6,623.8L907.5,626.2L910.5,626.6L913.4,626.6L916.3,628.0L919.3,626.9L922.2,624.8L925.1,622.6L928.1,623.3L931.0,625.3L934.0,626.9L936.9,628.4" fill="none" stroke="#DB1374" stroke-width="1.95" stroke-linejoin="round" stroke-linecap="round"/><path d="M587.3,623.5L590.3,623.3L593.2,622.9L596.1,622.9L599.1,622.9L602.0,622.4L605.0,622.0L607.9,622.0L610.8,622.0L613.8,622.6L616.7,622.9L619.6,623.5L622.6,621.6L625.5,621.1L628.5,620.7L631.4,620.6L634.3,620.6L637.3,620.6L640.2,620.6L643.1,620.4L646.1,620.2L649.0,618.9L652.0,617.1L654.9,616.0L657.8,616.2L660.8,612.0L663.7,610.5L666.6,609.2L669.6,608.7L672.5,605.6L675.5,605.2L678.4,605.6L681.3,602.8L684.3,600.5L687.2,600.1L690.1,600.1L693.1,595.5L696.0,593.7L699.0,595.0L701.9,596.4L704.8,596.4L707.8,594.6L710.7,593.7L713.6,594.6L716.6,594.6L719.5,595.5L722.5,596.1L725.4,597.0L728.3,597.5L731.3,597.9L734.2,597.7L737.1,597.0L740.1,596.1L743.0,595.2L746.0,593.3L748.9,592.8L751.8,594.2L754.8,595.0L757.7,593.1L760.6,594.2L763.6,596.1L766.5,597.9L769.5,599.7L772.4,601.0L775.3,602.3L778.3,600.5L781.2,601.0L784.1,602.3L787.1,602.6L790.0,602.3L793.0,602.3L795.9,603.4L798.8,605.0L801.8,606.5L804.7,606.5L807.6,607.0L810.6,607.4L813.5,607.9L816.5,608.7L819.4,609.8L822.3,609.8L825.3,611.0L828.2,612.5L831.1,614.3L834.1,614.7L837.0,615.1L840.0,612.9L842.9,612.0L845.8,612.0L848.8,612.9L851.7,614.2L854.6,614.7L857.6,613.8L860.5,613.2L863.5,612.9L866.4,613.2L869.3,613.4L872.3,614.3L875.2,613.8L878.1,614.3L881.1,614.7L884.0,615.4L887.0,616.0L889.9,616.5L892.8,614.7L895.8,613.8L898.7,615.3L901.6,616.5L904.6,617.8L907.5,618.7L910.5,619.3L913.4,619.6L916.3,620.2L919.3,619.8L922.2,619.3L925.1,618.9L928.1,619.3L931.0,620.2L934.0,620.9L936.9,621.6" fill="none" stroke="#00B3A4" stroke-width="1.95" stroke-linejoin="round" stroke-linecap="round"/></g><path d="M587.33,535V668M577.33,668H936.33" stroke="#BBB" stroke-width="2" fill="none"/><text x="566.83" y="671.7" text-anchor="end">0</text><text x="566.83" y="658.9" text-anchor="end">0.5</text><text x="566.83" y="646.0" text-anchor="end">1</text><text x="566.83" y="633.2" text-anchor="end">1.5</text><text x="566.83" y="620.3" text-anchor="end">2</text><text x="566.83" y="607.5" text-anchor="end">2.5</text><text x="566.83" y="594.6" text-anchor="end">3</text><text x="566.83" y="581.8" text-anchor="end">3.5</text><text x="566.83" y="568.9" text-anchor="end">4</text><text x="566.83" y="556.1" text-anchor="end">4.5</text><text x="566.83" y="543.2" text-anchor="end">5</text><path d="M577.33,655.1H587.33M577.33,642.3H587.33M577.33,629.5H587.33M577.33,616.6H587.33M577.33,603.8H587.33M577.33,590.9H587.33M577.33,578.0H587.33M577.33,565.2H587.33M577.33,552.4H587.33M577.33,539.5H587.33M598.83,668V678M628.21,668V678M657.58,668V678M686.96,668V678M716.33,668V678M745.71,668V678M775.08,668V678M804.46,668V678M833.83,668V678M863.21,668V678M892.58,668V678M921.96,668V678" stroke="#777" stroke-width="1" fill="none"/><text x="598.8" y="696.4" text-anchor="middle" letter-spacing="-0.14">12:50:00</text><text x="657.6" y="696.4" text-anchor="middle" letter-spacing="-0.14">13:00:00</text><text x="716.3" y="696.4" text-anchor="middle" letter-spacing="-0.14">13:10:00</text><text x="775.1" y="696.4" text-anchor="middle" letter-spacing="-0.14">13:20:00</text><text x="833.8" y="696.4" text-anchor="middle" letter-spacing="-0.14">13:30:00</text><text x="892.6" y="696.4" text-anchor="middle" letter-spacing="-0.14">13:40:00</text></g>
<g><clipPath id="cp5"><rect x="1047.66" y="534" width="349.5" height="135"/></clipPath><g clip-path="url(#cp5)"><path d="M1048.7,637.5L1051.6,643.0L1054.5,648.5L1057.5,653.4L1060.4,618.4L1063.3,630.2L1066.3,636.6L1069.2,623.8L1072.2,610.7L1075.1,621.1L1078.0,617.4L1081.0,624.8L1083.9,621.1L1086.8,624.8L1089.8,629.3L1092.7,610.1L1095.7,617.4L1098.6,628.4L1101.5,635.7L1104.5,641.2L1107.4,647.2L1110.3,641.2L1113.3,638.1L1116.2,643.9L1119.2,652.2L1122.1,657.1L1125.0,660.4L1128.0,644.9L1130.9,649.4L1133.8,650.0L1136.8,645.4L1139.7,610.1L1142.7,608.3L1145.6,632.1L1148.5,638.8L1151.5,636.6L1154.4,643.0L1157.3,650.9L1160.3,582.7L1163.2,610.1L1166.2,629.3L1169.1,638.5L1172.0,640.6L1175.0,631.1L1177.9,602.8L1180.8,619.3L1183.8,626.6L1186.7,628.4L1189.7,643.0L1192.6,643.4L1195.5,650.3L1198.5,652.2L1201.4,649.4L1204.3,644.9L1207.3,636.3L1210.2,637.5L1213.2,641.2L1216.1,645.8L1219.0,652.2L1222.0,643.9L1224.9,634.8L1227.8,627.5L1230.8,619.3L1233.7,629.3L1236.7,641.2L1239.6,639.4L1242.5,647.6L1245.5,655.8L1248.4,647.0L1251.3,653.1L1254.3,654.9L1257.2,652.7L1260.2,653.1L1263.1,652.2L1266.0,635.2L1269.0,636.6L1271.9,638.8L1274.8,572.7L1277.8,574.1L1280.7,576.3L1283.7,559.9L1286.6,561.7L1289.5,578.2L1292.5,585.5L1295.4,591.0L1298.3,605.6L1301.3,625.7L1304.2,619.8L1307.2,615.6L1310.1,620.2L1313.0,622.9L1316.0,637.5L1318.9,638.5L1321.8,636.6L1324.8,615.6L1327.7,601.0L1330.7,589.1L1333.6,535.2L1336.5,554.4L1339.5,580.0L1342.4,607.4L1345.3,627.5L1348.3,644.9L1351.2,647.2L1354.2,649.4L1357.1,645.4L1360.0,646.7L1363.0,641.2L1365.9,643.9L1368.8,654.0L1371.8,618.4L1374.7,576.7L1377.7,600.1L1380.6,625.7L1383.5,643.0L1386.5,647.6L1389.4,637.5L1392.3,638.8L1395.3,638.5L1398.2,645.4" fill="none" stroke="#3185FC" stroke-width="1.85" stroke-linejoin="round" stroke-linecap="round"/><path d="M1048.7,630.2L1051.6,633.0L1054.5,635.2L1057.5,637.5L1060.4,631.1L1063.3,632.1L1066.3,633.3L1069.2,631.1L1072.2,627.1L1075.1,627.5L1078.0,626.6L1081.0,627.1L1083.9,626.2L1086.8,626.6L1089.8,627.1L1092.7,622.6L1095.7,623.3L1098.6,625.3L1101.5,627.1L1104.5,629.7L1107.4,632.1L1110.3,632.1L1113.3,632.1L1116.2,633.9L1119.2,637.2L1122.1,639.9L1125.0,642.7L1128.0,640.6L1130.9,642.1L1133.8,643.0L1136.8,642.7L1139.7,635.7L1142.7,633.0L1145.6,635.7L1148.5,637.5L1151.5,636.6L1154.4,638.1L1157.3,640.6L1160.3,625.3L1163.2,628.4L1166.2,631.1L1169.1,633.5L1172.0,634.8L1175.0,632.1L1177.9,626.6L1180.8,628.0L1183.8,629.3L1186.7,629.9L1189.7,632.6L1192.6,634.4L1195.5,636.3L1198.5,637.9L1201.4,638.8L1204.3,639.0L1207.3,636.6L1210.2,636.6L1213.2,637.5L1216.1,639.4L1219.0,641.7L1222.0,640.6L1224.9,638.8L1227.8,637.2L1230.8,634.4L1233.7,636.3L1236.7,637.5L1239.6,638.1L1242.5,640.3L1245.5,642.7L1248.4,642.1L1251.3,643.9L1254.3,645.4L1257.2,646.1L1260.2,646.7L1263.1,647.2L1266.0,643.9L1269.0,643.6L1271.9,643.6L1274.8,628.0L1277.8,622.9L1280.7,619.3L1283.7,611.0L1286.6,607.0L1289.5,606.5L1292.5,605.6L1295.4,605.9L1298.3,608.3L1301.3,612.5L1304.2,612.0L1307.2,612.0L1310.1,613.2L1313.0,614.7L1316.0,618.9L1318.9,621.1L1321.8,622.4L1324.8,619.3L1327.7,615.6L1330.7,611.4L1333.6,597.3L1336.5,596.1L1339.5,599.2L1342.4,604.7L1345.3,610.1L1348.3,615.6L1351.2,618.9L1354.2,622.0L1357.1,623.8L1360.0,625.7L1363.0,626.6L1365.9,629.0L1368.8,632.6L1371.8,628.4L1374.7,616.0L1377.7,618.4L1380.6,622.9L1383.5,627.1L1386.5,629.7L1389.4,629.0L1392.3,630.2L1395.3,631.5L1398.2,633.3" fill="none" stroke="#DB1374" stroke-width="1.95" stroke-linejoin="round" stroke-linecap="round"/><path d="M1048.7,628.4L1051.6,629.3L1054.5,630.2L1057.5,631.1L1060.4,629.7L1063.3,630.0L1066.3,630.2L1069.2,629.3L1072.2,628.4L1075.1,628.2L1078.0,628.0L1081.0,628.0L1083.9,627.9L1086.8,627.9L1089.8,627.9L1092.7,626.6L1095.7,626.8L1098.6,627.3L1101.5,627.9L1104.5,628.6L1107.4,629.3L1110.3,629.5L1113.3,629.7L1116.2,630.4L1119.2,631.1L1122.1,632.3L1125.0,633.5L1128.0,633.8L1130.9,634.1L1133.8,634.4L1136.8,634.8L1139.7,633.0L1142.7,632.1L1145.6,633.0L1148.5,633.5L1151.5,633.9L1154.4,634.3L1157.3,635.2L1160.3,630.8L1163.2,631.5L1166.2,632.4L1169.1,633.0L1172.0,633.5L1175.0,633.0L1177.9,631.1L1180.8,631.5L1183.8,631.9L1186.7,632.4L1189.7,633.0L1192.6,633.6L1195.5,634.3L1198.5,634.7L1201.4,635.2L1204.3,635.0L1207.3,634.8L1210.2,635.0L1213.2,635.2L1216.1,635.7L1219.0,636.3L1222.0,636.0L1224.9,635.7L1227.8,635.3L1230.8,634.8L1233.7,635.4L1236.7,636.1L1239.6,636.5L1242.5,637.0L1245.5,637.2L1248.4,637.4L1251.3,637.9L1254.3,638.5L1257.2,638.8L1260.2,639.2L1263.1,639.6L1266.0,638.8L1269.0,638.8L1271.9,638.8L1274.8,634.8L1277.8,633.0L1280.7,631.5L1283.7,629.0L1286.6,626.9L1289.5,625.7L1292.5,624.4L1295.4,623.8L1298.3,623.8L1301.3,624.8L1304.2,624.4L1307.2,624.2L1310.1,624.2L1313.0,624.4L1316.0,625.3L1318.9,625.8L1321.8,626.2L1324.8,625.3L1327.7,623.8L1330.7,622.4L1333.6,617.8L1336.5,616.5L1339.5,616.5L1342.4,617.8L1345.3,619.6L1348.3,621.1L1351.2,622.0L1354.2,622.9L1357.1,623.5L1360.0,624.2L1363.0,624.8L1365.9,625.7L1368.8,626.8L1371.8,625.7L1374.7,621.6L1377.7,622.4L1380.6,623.8L1383.5,625.1L1386.5,626.0L1389.4,626.0L1392.3,626.4L1395.3,626.9L1398.2,627.7" fill="none" stroke="#00B3A4" stroke-width="1.95" stroke-linejoin="round" stroke-linecap="round"/></g><path d="M1048.66,535V668M1038.66,668H1397.66" stroke="#BBB" stroke-width="2" fill="none"/><text x="1028.16" y="671.7" text-anchor="end">0</text><text x="1028.16" y="653.2" text-anchor="end">0.5</text><text x="1028.16" y="634.7" text-anchor="end">1</text><text x="1028.16" y="616.2" text-anchor="end">1.5</text><text x="1028.16" y="597.7" text-anchor="end">2</text><text x="1028.16" y="579.2" text-anchor="end">2.5</text><text x="1028.16" y="560.7" text-anchor="end">3</text><text x="1028.16" y="542.2" text-anchor="end">3.5</text><path d="M1038.66,649.5H1048.66M1038.66,631.0H1048.66M1038.66,612.5H1048.66M1038.66,594.0H1048.66M1038.66,575.5H1048.66M1038.66,557.0H1048.66M1038.66,538.5H1048.66M1060.16,668V678M1089.54,668V678M1118.91,668V678M1148.29,668V678M1177.66,668V678M1207.04,668V678M1236.41,668V678M1265.79,668V678M1295.16,668V678M1324.54,668V678M1353.91,668V678M1383.29,668V678" stroke="#777" stroke-width="1" fill="none"/><text x="1060.2" y="696.4" text-anchor="middle" letter-spacing="-0.14">12:50:00</text><text x="1118.9" y="696.4" text-anchor="middle" letter-spacing="-0.14">13:00:00</text><text x="1177.7" y="696.4" text-anchor="middle" letter-spacing="-0.14">13:10:00</text><text x="1236.4" y="696.4" text-anchor="middle" letter-spacing="-0.14">13:20:00</text><text x="1295.2" y="696.4" text-anchor="middle" letter-spacing="-0.14">13:30:00</text><text x="1353.9" y="696.4" text-anchor="middle" letter-spacing="-0.14">13:40:00</text></g>
</svg>
<svg style="left:0;top:760px;z-index:9" width="6" height="6" viewBox="0 0 6 6"><path d="M0 6V.6A5.400 5.400 0 0 0 5.400 6z" fill="#2b2b2b"/></svg>
</div></body></html>
